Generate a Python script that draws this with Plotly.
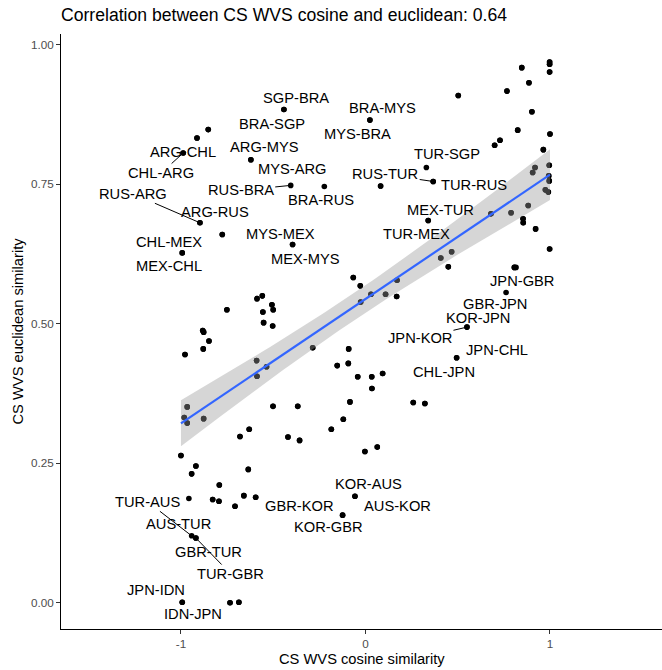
import numpy as np
import plotly.graph_objects as go

# Country pairs: cosine vs euclidean similarity of CS WVS profiles.
# Labelled rows are directed pairs (both directions are listed).
pair = [
    "SGP-BRA", "BRA-SGP", "BRA-MYS", "MYS-BRA", "ARG-CHL", "CHL-ARG",
    "ARG-MYS", "MYS-ARG", "RUS-BRA", "BRA-RUS", "RUS-ARG", "ARG-RUS",
    "CHL-MEX", "MEX-CHL", "MYS-MEX", "MEX-MYS", "TUR-SGP", "RUS-TUR",
    "TUR-RUS", "MEX-TUR", "TUR-MEX", "JPN-GBR", "GBR-JPN", "KOR-JPN",
    "JPN-KOR", "JPN-CHL", "CHL-JPN", "KOR-AUS", "AUS-KOR", "GBR-KOR",
    "KOR-GBR", "TUR-AUS", "AUS-TUR", "GBR-TUR", "TUR-GBR", "JPN-IDN",
    "IDN-JPN",
]
pair_cos = [
    -0.442, -0.442, 0.024, 0.024, -0.988, -0.988,
    -0.621, -0.621, -0.405, -0.223, -0.897, -0.897,
    -0.993, -0.993, -0.395, -0.395, 0.330, 0.367,
    0.367, 0.340, 0.340, 0.816, 0.762, 0.550,
    0.550, 0.494, 0.494, -0.057, -0.057, -0.124,
    -0.124, -0.942, -0.957, -0.919, -0.919, -0.993,
    -0.993,
]
pair_euc = [
    0.884, 0.884, 0.865, 0.865, 0.806, 0.806,
    0.794, 0.794, 0.748, 0.746, 0.681, 0.681,
    0.627, 0.627, 0.642, 0.642, 0.780, 0.755,
    0.755, 0.685, 0.685, 0.601, 0.556, 0.494,
    0.494, 0.439, 0.439, 0.191, 0.191, 0.157,
    0.157, 0.120, 0.187, 0.116, 0.116, 0.001,
    0.001,
]

# Remaining (unlabelled) pairs; each appears in both directions in the data.
other_cos = [
    -0.852, -0.913, -0.776, 0.503, 0.847, 0.998, 0.998, 0.998, 0.886, 0.767,
    0.902, 0.825, 1.000, 0.729, 0.700, 0.964, 0.082, 0.996, 0.919, 0.906,
    0.993, 0.996, 0.975, 0.991, 0.882, 0.789, 0.680, 0.854, 0.855, 0.922,
    0.998, 0.408, 0.467, 0.449, 0.807, 0.259, 0.322, -0.066, -0.028, 0.030,
    -0.026, 0.109, 0.171, 0.169, -0.286, -0.091, -0.153, -0.093, -0.042, 0.034,
    0.093, 0.035, -0.084, -0.120, -0.185, -0.003, 0.064, -0.588, -0.559, -0.751,
    -0.556, -0.507, -0.500, -0.552, -0.503, -0.882, -0.877, -0.848, -0.879, -0.978,
    -0.590, -0.536, -0.588, -0.966, -0.501, -0.367, -0.982, -0.966, -0.877, -0.680,
    -0.630, -0.420, -0.357, -1.000, -0.919, -0.942, -0.635, -0.792, -0.828, -0.794,
    -0.659, -0.595, -0.707, -0.734, -0.686,
]
other_euc = [
    0.848, 0.833, 0.660, 0.909, 0.959, 0.969, 0.965, 0.951, 0.932, 0.917,
    0.880, 0.847, 0.840, 0.829, 0.820, 0.812, 0.747, 0.784, 0.780, 0.771,
    0.765, 0.756, 0.740, 0.736, 0.712, 0.699, 0.697, 0.688, 0.681, 0.670,
    0.634, 0.618, 0.629, 0.602, 0.601, 0.359, 0.357, 0.583, 0.568, 0.553,
    0.539, 0.553, 0.578, 0.549, 0.457, 0.455, 0.425, 0.429, 0.405, 0.405,
    0.411, 0.384, 0.360, 0.329, 0.311, 0.271, 0.279, 0.545, 0.550, 0.525,
    0.521, 0.534, 0.525, 0.502, 0.496, 0.488, 0.485, 0.469, 0.455, 0.445,
    0.434, 0.423, 0.406, 0.351, 0.352, 0.352, 0.332, 0.322, 0.330, 0.298,
    0.311, 0.297, 0.291, 0.264, 0.245, 0.231, 0.239, 0.211, 0.185, 0.182,
    0.192, 0.189, 0.173, 0.000, 0.001,
]

x_ticks = [-1, 0, 1]
y_ticks = [0.00, 0.25, 0.50, 0.75, 1.00]
title_text = "Correlation between CS WVS cosine and euclidean: 0.64"

# Label placement (pixel nudge of the text centre from its point, and
# whether a connector segment is drawn), repel-style.
LABEL_NUDGE = {
    "SGP-BRA": (12, -12, False), "BRA-SGP": (-12, 14, False),
    "BRA-MYS": (13, -12, False), "MYS-BRA": (-12, 14, False),
    "ARG-CHL": (0, -1, False), "CHL-ARG": (-22, 20, True),
    "ARG-MYS": (14, -13, False), "MYS-ARG": (42, 9, False),
    "RUS-BRA": (-50, 5, True), "BRA-RUS": (-3, 13, False),
    "RUS-ARG": (-67, -29, True), "ARG-RUS": (15, -11, False),
    "CHL-MEX": (-13, -11, False), "MEX-CHL": (-13, 13, False),
    "MYS-MEX": (-12, -11, False), "MEX-MYS": (13, 14, False),
    "TUR-SGP": (21, -14, False),
    "RUS-TUR": (-48, -7, True), "TUR-RUS": (41, 4, False),
    "MEX-TUR": (12, -11, False), "TUR-MEX": (-12, 13, False),
    "JPN-GBR": (6, 14, False), "GBR-JPN": (-11, 11, False),
    "KOR-JPN": (11, -9, False), "JPN-KOR": (-47, 11, True),
    "JPN-CHL": (40, -8, False), "CHL-JPN": (-13, 14, False),
    "KOR-AUS": (14, -12, False), "AUS-KOR": (43, 10, False),
    "GBR-KOR": (-43, -9, False), "KOR-GBR": (-14, 12, False),
    "TUR-AUS": (-44, -34, True), "AUS-TUR": (-10, 26, False),
    "GBR-TUR": (13, 14, False), "TUR-GBR": (35, 36, True),
    "JPN-IDN": (-26, -12, False), "IDN-JPN": (11, 12, False),
}

FONT = "Liberation Sans, Arial, sans-serif"

# Full directed data set used for the fit.
x = np.concatenate([pair_cos, np.repeat(other_cos, 2)])
y = np.concatenate([pair_euc, np.repeat(other_euc, 2)])
n = len(x)

# Linear fit with a 95% confidence band (as geom_smooth(method = "lm")).
slope, intercept = np.polyfit(x, y, 1)
xs = np.linspace(x.min(), x.max(), 80)
fit = intercept + slope * xs
resid = y - (intercept + slope * x)
s = np.sqrt(resid @ resid / (n - 2))
sxx = ((x - x.mean()) ** 2).sum()
se = s * np.sqrt(1.0 / n + (xs - x.mean()) ** 2 / sxx)


def t_quantile_975(df):
    z = 1.959963985
    g1 = (z ** 3 + z) / 4.0
    g2 = (5 * z ** 5 + 16 * z ** 3 + 3 * z) / 96.0
    return z + g1 / df + g2 / df ** 2


tcrit = t_quantile_975(n - 2)
upper = fit + tcrit * se
lower = fit - tcrit * se

fig = go.Figure()

fig.add_trace(go.Scatter(
    x=x, y=y, mode="markers",
    marker=dict(color="black", size=5.6, line=dict(width=0)),
    hoverinfo="skip", showlegend=False,
))

fig.add_trace(go.Scatter(
    x=np.concatenate([xs, xs[::-1]]),
    y=np.concatenate([upper, lower[::-1]]),
    fill="toself", fillcolor="rgba(153,153,153,0.4)",
    line=dict(width=0), mode="lines", hoverinfo="skip", showlegend=False,
))

fig.add_trace(go.Scatter(
    x=xs, y=fit, mode="lines",
    line=dict(color="#3366FF", width=2.2),
    hoverinfo="skip", showlegend=False,
))

annotations = []
for name, px, py in zip(pair, pair_cos, pair_euc):
    dx, dy, seg = LABEL_NUDGE[name]
    common = dict(x=px, y=py, xref="x", yref="y", text=name,
                  font=dict(family=FONT, size=14.7, color="black"))
    if seg:
        annotations.append(dict(
            **common, showarrow=True, ax=dx, ay=dy, axref="pixel", ayref="pixel",
            arrowhead=0, arrowwidth=1, arrowcolor="black", standoff=2,
            startstandoff=0,
        ))
    else:
        annotations.append(dict(
            **common, showarrow=False, xanchor="center", yanchor="middle",
            xshift=dx, yshift=-dy,
        ))

# Axis titles
annotations.append(dict(
    text="CS WVS cosine similarity", xref="paper", yref="paper",
    x=0.5, y=0, yshift=-30, xanchor="center", yanchor="middle",
    showarrow=False, font=dict(family=FONT, size=14.7, color="black"),
))
annotations.append(dict(
    text="CS WVS euclidean similarity", xref="paper", yref="paper",
    x=0, y=0.5, xshift=-44, xanchor="center", yanchor="middle",
    textangle=-90, showarrow=False,
    font=dict(family=FONT, size=14.7, color="black"),
))

axis_common = dict(
    showgrid=False, zeroline=False, showline=True, linecolor="black",
    linewidth=1, ticks="outside", ticklen=4, tickwidth=1,
    tickcolor="#333333", tickfont=dict(family=FONT, size=11.7, color="#4D4D4D"),
)

fig.update_layout(
    width=662, height=670,
    margin=dict(l=61, r=0, t=34, b=41, pad=0),
    paper_bgcolor="white", plot_bgcolor="white",
    title=dict(
        text=title_text, xref="container", yref="container",
        x=61 / 662, xanchor="left", y=1 - 15 / 670, yanchor="middle",
        font=dict(family=FONT, size=17.6, color="black"),
    ),
    xaxis=dict(
        **axis_common, range=[-1.65, 1.607], tickvals=x_ticks,
        ticktext=[str(v) for v in x_ticks],
    ),
    yaxis=dict(
        **axis_common, range=[-0.047, 1.0193], tickvals=y_ticks,
        ticktext=[f"{v:.2f}" for v in y_ticks],
    ),
    annotations=annotations,
    showlegend=False,
)

fig.write_html("out.html")
